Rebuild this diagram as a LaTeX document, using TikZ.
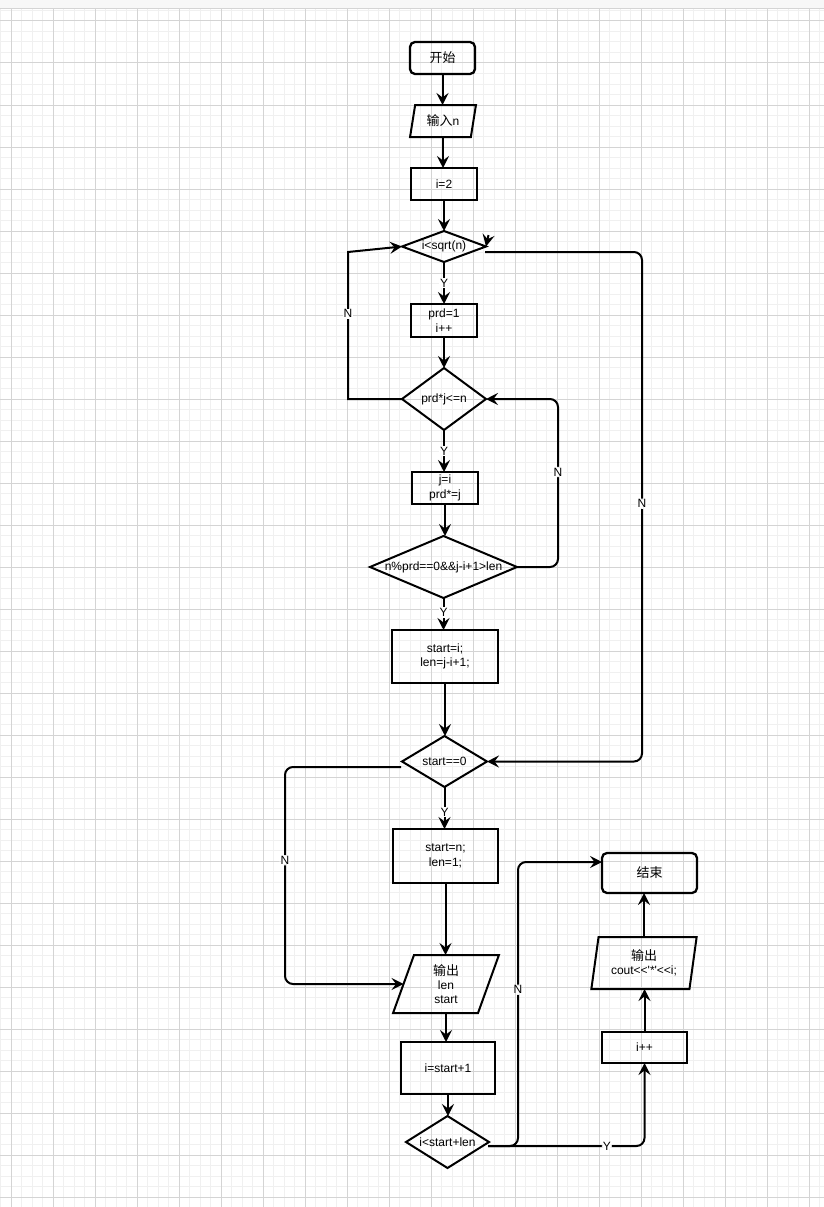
\documentclass[tikz,border=0pt]{standalone}
\usepackage{fontspec}
\setmainfont{Liberation Sans}
\newfontfamily\cjk{Noto Sans CJK SC}[Scale=1.08]
\font\plainarial="Liberation Sans" at 12pt
\usetikzlibrary{arrows.meta,shapes.geometric}
\definecolor{gminor}{RGB}{240,240,240}
\definecolor{gmajor}{RGB}{212,212,212}
\definecolor{topbar}{RGB}{247,247,247}
\begin{document}
\begin{tikzpicture}[x=1pt,y=-1pt,
  txt/.style={font=\fontsize{12}{14.4}\selectfont, align=center},
  proc/.style={txt, draw, line width=2.3pt, rectangle, inner sep=0pt, outer sep=0pt},
  term/.style={proc, rounded corners=5pt},
  dec/.style={draw, line width=2pt, diamond, inner sep=0pt, outer sep=0pt},
  io/.style={txt, draw, line width=2pt, trapezium, trapezium stretches=true, inner sep=0pt, outer sep=0pt},
  arr/.style={line width=2pt, -{Stealth[length=12pt,width=12pt,inset=4.5pt]}},
  lab/.style={txt, fill=white, inner sep=1pt},
  rbend/.style={rounded corners=8pt},
]
\useasboundingbox (0,0) rectangle (824,1207);
% background grid
\fill[white] (0,0) rectangle (824,1207);
\fill[topbar] (0,0) rectangle (824,9);
\foreach \k in {0,...,78} \draw[gminor, line width=1pt] ({0.5+10.5*\k},9) -- ({0.5+10.5*\k},1207);
\foreach \k in {0,...,113} \draw[gminor, line width=1pt] (0,{10.5+10.5*\k}) -- (824,{10.5+10.5*\k});
\foreach \k in {0,...,19} \draw[gmajor, line width=1pt] ({11+42*\k},9) -- ({11+42*\k},1207);
\foreach \k in {0,...,28} \draw[gmajor, line width=1pt] (0,{21+42*\k}) -- (824,{21+42*\k});
\draw[gmajor, line width=1pt] (0,9) -- (824,9);

% nodes
\node[term, minimum width=65pt, minimum height=32pt] (s) at (442.5,58) {{\cjk 开始}};
\node[io, minimum width=66pt, minimum height=32pt, trapezium left angle=76, trapezium right angle=104] (in) at (443,121) {{\cjk 输入}n};
\node[proc, minimum width=66pt, minimum height=32pt] (i2) at (444,184) {i=2};
\node[dec, minimum width=84pt, minimum height=31pt, label={[txt]center:{i<sqrt(n)}}] (d1) at (444,246.5) {};
\node[proc, minimum width=66pt, minimum height=33pt] (p1) at (444,320.5) {prd=1\\i++};
\node[dec, minimum width=84pt, minimum height=62pt, label={[txt]center:{prd*j<=n}}] (d2) at (444,399) {};
\node[proc, minimum width=66pt, minimum height=32pt] (b2) at (445,488) {j=i\\prd*=j};
\node[dec, minimum width=147pt, minimum height=62pt, label={[txt]center:{n\%prd==0\&\&j-i+1>len}}] (d3) at (443.5,567) {};
\node[proc, minimum width=106pt, minimum height=53pt] (b3) at (445,656.5) {start=i;\\len=j-i+1;};
\node[dec, minimum width=85pt, minimum height=51pt, label={[txt]center:{start==0}}] (d4) at (444.5,761.5) {};
\node[proc, minimum width=105pt, minimum height=54pt] (b4) at (445.5,856) {start=n;\\len=1;};
\node[io, minimum width=106pt, minimum height=58pt, trapezium left angle=78, trapezium right angle=102] (o1) at (446,984) {{\cjk 输出}\\len\\start};
\node[proc, minimum width=94pt, minimum height=52pt] (b5) at (448,1068) {i=start+1};
\node[dec, minimum width=83pt, minimum height=52pt, label={[txt]center:{i<start+len}}] (d5) at (447.5,1142) {};
\node[proc, minimum width=85pt, minimum height=31pt] (ib) at (644.5,1047.5) {i++};
\node[io, minimum width=106pt, minimum height=52pt, trapezium left angle=79, trapezium right angle=101] (o2) at (644,963) {{\cjk 输出}\\{\plainarial cout<<'*'<<i;}};
\node[term, minimum width=95pt, minimum height=40pt] (e) at (649.5,873) {{\cjk 结束}};

% straight connectors (vertical)
\draw[arr] (s.south) -- (s.south |- in.north);
\draw[arr] (in.south) -- (in.south |- i2.north);
\draw[arr] (i2.south) -- (i2.south |- d1.north);
\draw[arr] (d1.south) -- node[lab]{Y} (d1.south |- p1.north);
\draw[arr] (p1.south) -- (p1.south |- d2.north);
\draw[arr] (d2.south) -- node[lab]{Y} (d2.south |- b2.north);
\draw[arr] (b2.south) -- (b2.south |- d3.north);
\draw[arr] (d3.south) -- node[lab,pos=0.45]{Y} (d3.south |- b3.north);
\draw[arr] (b3.south) -- (b3.south |- d4.north);
\draw[arr] (d4.south) -- node[lab,pos=0.6]{Y} (d4.south |- b4.north);
\draw[arr] (b4.south) -- (b4.south |- o1.north);
\draw[arr] (o1.south) -- (o1.south |- b5.north);
\draw[arr] (b5.south) -- (b5.south |- d5.north);
\draw[arr] (ib.north) -- (ib.north |- o2.south);
\draw[arr] (o2.north) -- (o2.north |- e.south);

% loops
\coordinate (c1a) at (348,399);
\coordinate (c1b) at (348,252);
\draw[arr] (d2.west) -- (c1a) -- node[lab,pos=0.58]{N} (c1b) -- (d1.west);

\coordinate (c2a) at (558,567);
\coordinate (c2b) at (558,399);
\draw[arr,rbend] (d3.east) -- (c2a) -- node[lab,pos=0.565]{N} (c2b) -- (d2.east);

\coordinate (c3o) at (485,252);
\coordinate (c3a) at (642,252);
\coordinate (c3b) at (642,761.5);
\draw[arr,rbend] (c3o) -- (c3a) -- node[lab,pos=0.494]{N} (c3b) -- (d4.east);

\coordinate (c4o) at (401,767);
\coordinate (c4a) at (285,767);
\coordinate (c4b) at (285,984);
\draw[arr,rbend] (c4o) -- (c4a) -- node[lab,pos=0.43]{N} (c4b) -- (o1.west);

\coordinate (c5o) at (488,1146);
\coordinate (c5a) at (518,1146);
\coordinate (c5b) at (518,862);
\draw[arr,rbend] (c5o) -- (c5a) -- node[lab,pos=0.55]{N} (c5b) -- (c5b -| e.west);

\coordinate (c6a) at (ib.south |- c5o);
\draw[arr,rbend] (c5o) -- node[lab,pos=0.76]{Y} (c6a) -- (ib.south);

% stray arrowhead at the right corner of the first decision
\coordinate (x1) at (488.5,235);
\draw[arr] (x1) -- (d1.east);
\end{tikzpicture}
\end{document}
